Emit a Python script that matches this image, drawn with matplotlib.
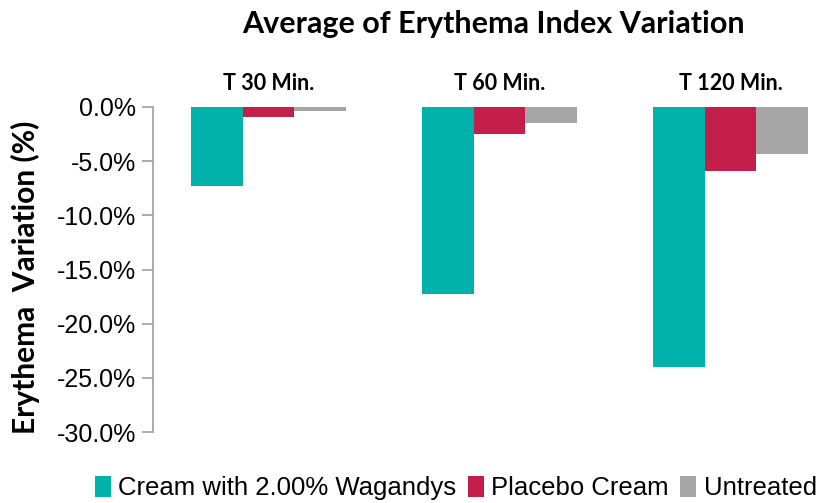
import matplotlib.pyplot as plt
import matplotlib.font_manager as fm
import numpy as np
from matplotlib.ticker import FuncFormatter

# data (percent variation)
groups = ["T 30 Min.", "T 60 Min.", "T 120 Min."]
series = ["Cream with 2.00% Wagandys", "Placebo Cream", "Untreated"]
cream = [-7.3, -17.3, -24.0]
placebo = [-0.95, -2.45, -5.95]
untreated = [-0.4, -1.5, -4.35]
colors = ["#00B2A9", "#C41E4A", "#A6A6A6"]

names = {f.name for f in fm.fontManager.ttflist}
narrow = "Liberation Sans Narrow" if "Liberation Sans Narrow" in names else "Liberation Sans"
bold_font = "Lato"

fig = plt.figure(figsize=(8.3, 5.03), dpi=100)
ax = fig.add_axes([153 / 830, 1 - 432 / 503, (846 - 153) / 830, (432 - 107) / 503])

x = np.arange(len(groups))
w = 0.2235
for i, (vals, lab) in enumerate(zip([cream, placebo, untreated], series)):
    ax.bar(x + (i - 1) * w, vals, w, color=colors[i], label=lab)

ax.set_xlim(-0.5, 2.5)
ax.set_ylim(-30, 0)
ax.set_yticks(np.arange(-30, 1, 5))
ax.yaxis.set_major_formatter(FuncFormatter(lambda v, p: f"{v:.1f}%" if v != 0 else "0.0%"))
ax.set_xticks([])
for s in ["top", "right", "bottom"]:
    ax.spines[s].set_visible(False)
ax.spines["left"].set_color("#A6A6A6")
ax.spines["left"].set_linewidth(1.3)
ax.tick_params(axis="y", length=8, width=1.3, color="#A6A6A6", pad=4)
for t in ax.get_yticklabels():
    t.set_fontfamily(narrow)
    t.set_fontsize(18)

for xi, g in zip(x, groups):
    ax.text(xi, 1.2, g, ha="center", va="bottom", fontsize=15.5, fontweight="bold",
            family=bold_font)

fig.text(493 / 830, 1 - 24 / 503, "Average of Erythema Index Variation", ha="center",
         va="center", fontsize=22, fontweight="bold", family=bold_font)
fig.text(25 / 830, 1 - 277 / 503, "Erythema  Variation (%)", rotation=90, ha="center",
         va="center", fontsize=21.5, fontweight="bold", family=bold_font)

fig.legend(loc="center", bbox_to_anchor=(456 / 830, 1 - 488 / 503), ncol=3, frameon=False,
           handlelength=0.6, handleheight=0.9, handletextpad=0.3, columnspacing=0.45,
           prop={"family": narrow, "size": 18.5})

fig.savefig("out.png", dpi=100)
